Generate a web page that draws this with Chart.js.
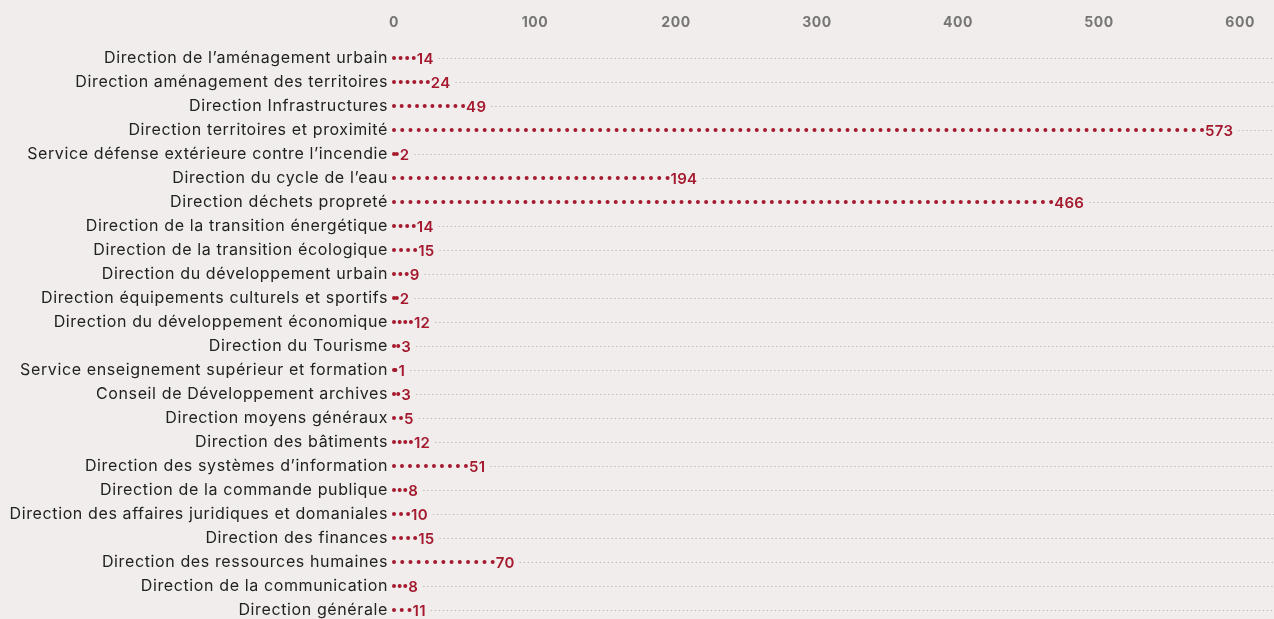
<!DOCTYPE html>
<html lang="fr">
<head>
<meta charset="utf-8">
<script src="https://cdn.jsdelivr.net/npm/chart.js@4.4.1/dist/chart.umd.min.js"></script>
<style>
    html, body { margin: 0; padding: 0; background: #f0edec; }
    #wrap { width: 1274px; height: 619px; position: relative; }
</style>
</head>
<body>
<div id="wrap"><canvas id="effectifsChart"></canvas></div>
<script>
const directions = [
    'Direction de l\u2019aménagement urbain',
    'Direction aménagement des territoires',
    'Direction Infrastructures',
    'Direction territoires et proximité',
    'Service défense extérieure contre l\u2019incendie',
    'Direction du cycle de l\u2019eau',
    'Direction déchets propreté',
    'Direction de la transition énergétique',
    'Direction de la transition écologique',
    'Direction du développement urbain',
    'Direction équipements culturels et sportifs',
    'Direction du développement économique',
    'Direction du Tourisme',
    'Service enseignement supérieur et formation',
    'Conseil de Développement archives',
    'Direction moyens généraux',
    'Direction des bâtiments',
    'Direction des systèmes d\u2019information',
    'Direction de la commande publique',
    'Direction des affaires juridiques et domaniales',
    'Direction des finances',
    'Direction des ressources humaines',
    'Direction de la communication',
    'Direction générale'
];
const effectifs = [14, 24, 49, 573, 2, 194, 466, 14, 15, 9, 2, 12, 3, 1, 3, 5, 12, 51, 8, 10, 15, 70, 8, 11];
const axisMax = 600;
const axisStep = 100;

const RED = '#a51a2e';
const FONT = 'Inter, "DejaVu Sans", sans-serif';
const DOT_GAP = 8.3;
const TRACKING = '0.62px';

// wide tracking for every text the chart measures and draws
// (set again before draw because a canvas resize resets the context)
const tracking = {
    id: 'tracking',
    beforeLayout(chart) { chart.ctx.letterSpacing = TRACKING; },
    beforeDraw(chart) { chart.ctx.letterSpacing = TRACKING; }
};

// dotted "lollipop" rows: red dots up to the value, the number, then a grey guide line
const dotRows = {
    id: 'dotRows',
    afterDatasetsDraw(chart) {
        const ctx = chart.ctx;
        const meta = chart.getDatasetMeta(0);
        const data = chart.data.datasets[0].data;
        ctx.save();
        meta.data.forEach((bar, i) => {
            const start = bar.base;
            const end = bar.x;
            const y = bar.y;
            const len = end - start;
            const n = Math.max(1, Math.ceil(len / DOT_GAP));
            ctx.fillStyle = RED;
            for (let k = 0; k <= n; k++) {
                ctx.beginPath();
                ctx.arc(start + k * len / n, y, 2, 0, Math.PI * 2);
                ctx.fill();
            }
            ctx.font = '600 15px ' + FONT;
            ctx.letterSpacing = '0.3px';
            ctx.textBaseline = 'middle';
            ctx.textAlign = 'left';
            const txt = String(data[i]);
            const tx = end + 3;
            ctx.fillText(txt, tx, y + 1);
            const lineStart = tx + ctx.measureText(txt).width + 5;

            ctx.beginPath();
            ctx.strokeStyle = '#b9b6b5';
            ctx.lineWidth = 1.2;
            ctx.setLineDash([1.3, 2.7]);
            ctx.moveTo(lineStart, y + 0.5);
            ctx.lineTo(chart.width, y + 0.5);
            ctx.stroke();
            ctx.setLineDash([]);
        });
        ctx.restore();
    }
};

new Chart(document.getElementById('effectifsChart'), {
    type: 'bar',
    data: {
        labels: directions,
        datasets: [{
            data: effectifs,
            backgroundColor: 'rgba(0,0,0,0)',
            borderWidth: 0
        }]
    },
    options: {
        indexAxis: 'y',
        responsive: true,
        maintainAspectRatio: false,
        animation: false,
        layout: { padding: { top: 0, right: 20, bottom: 9, left: 0 } },
        plugins: {
            legend: { display: false },
            tooltip: { enabled: false }
        },
        scales: {
            x: {
                position: 'top',
                min: 0,
                max: axisMax,
                grid: { display: false },
                border: { display: false },
                ticks: {
                    stepSize: axisStep,
                    color: '#767474',
                    padding: 19,
                    font: { family: FONT, size: 14, weight: 'bold' }
                },
                afterFit(scale) { scale.height = 58; }
            },
            y: {
                offset: false,
                grid: { display: false, drawTicks: false },
                border: { display: false },
                ticks: {
                    color: '#222',
                    padding: 6,
                    autoSkip: false,
                    font: { family: FONT, size: 16 }
                },
                afterFit(scale) {
                    scale.width = 394;
                    scale.paddingTop = 0;
                    scale.paddingBottom = 0;
                }
            }
        }
    },
    plugins: [tracking, dotRows]
});
</script>
</body>
</html>
